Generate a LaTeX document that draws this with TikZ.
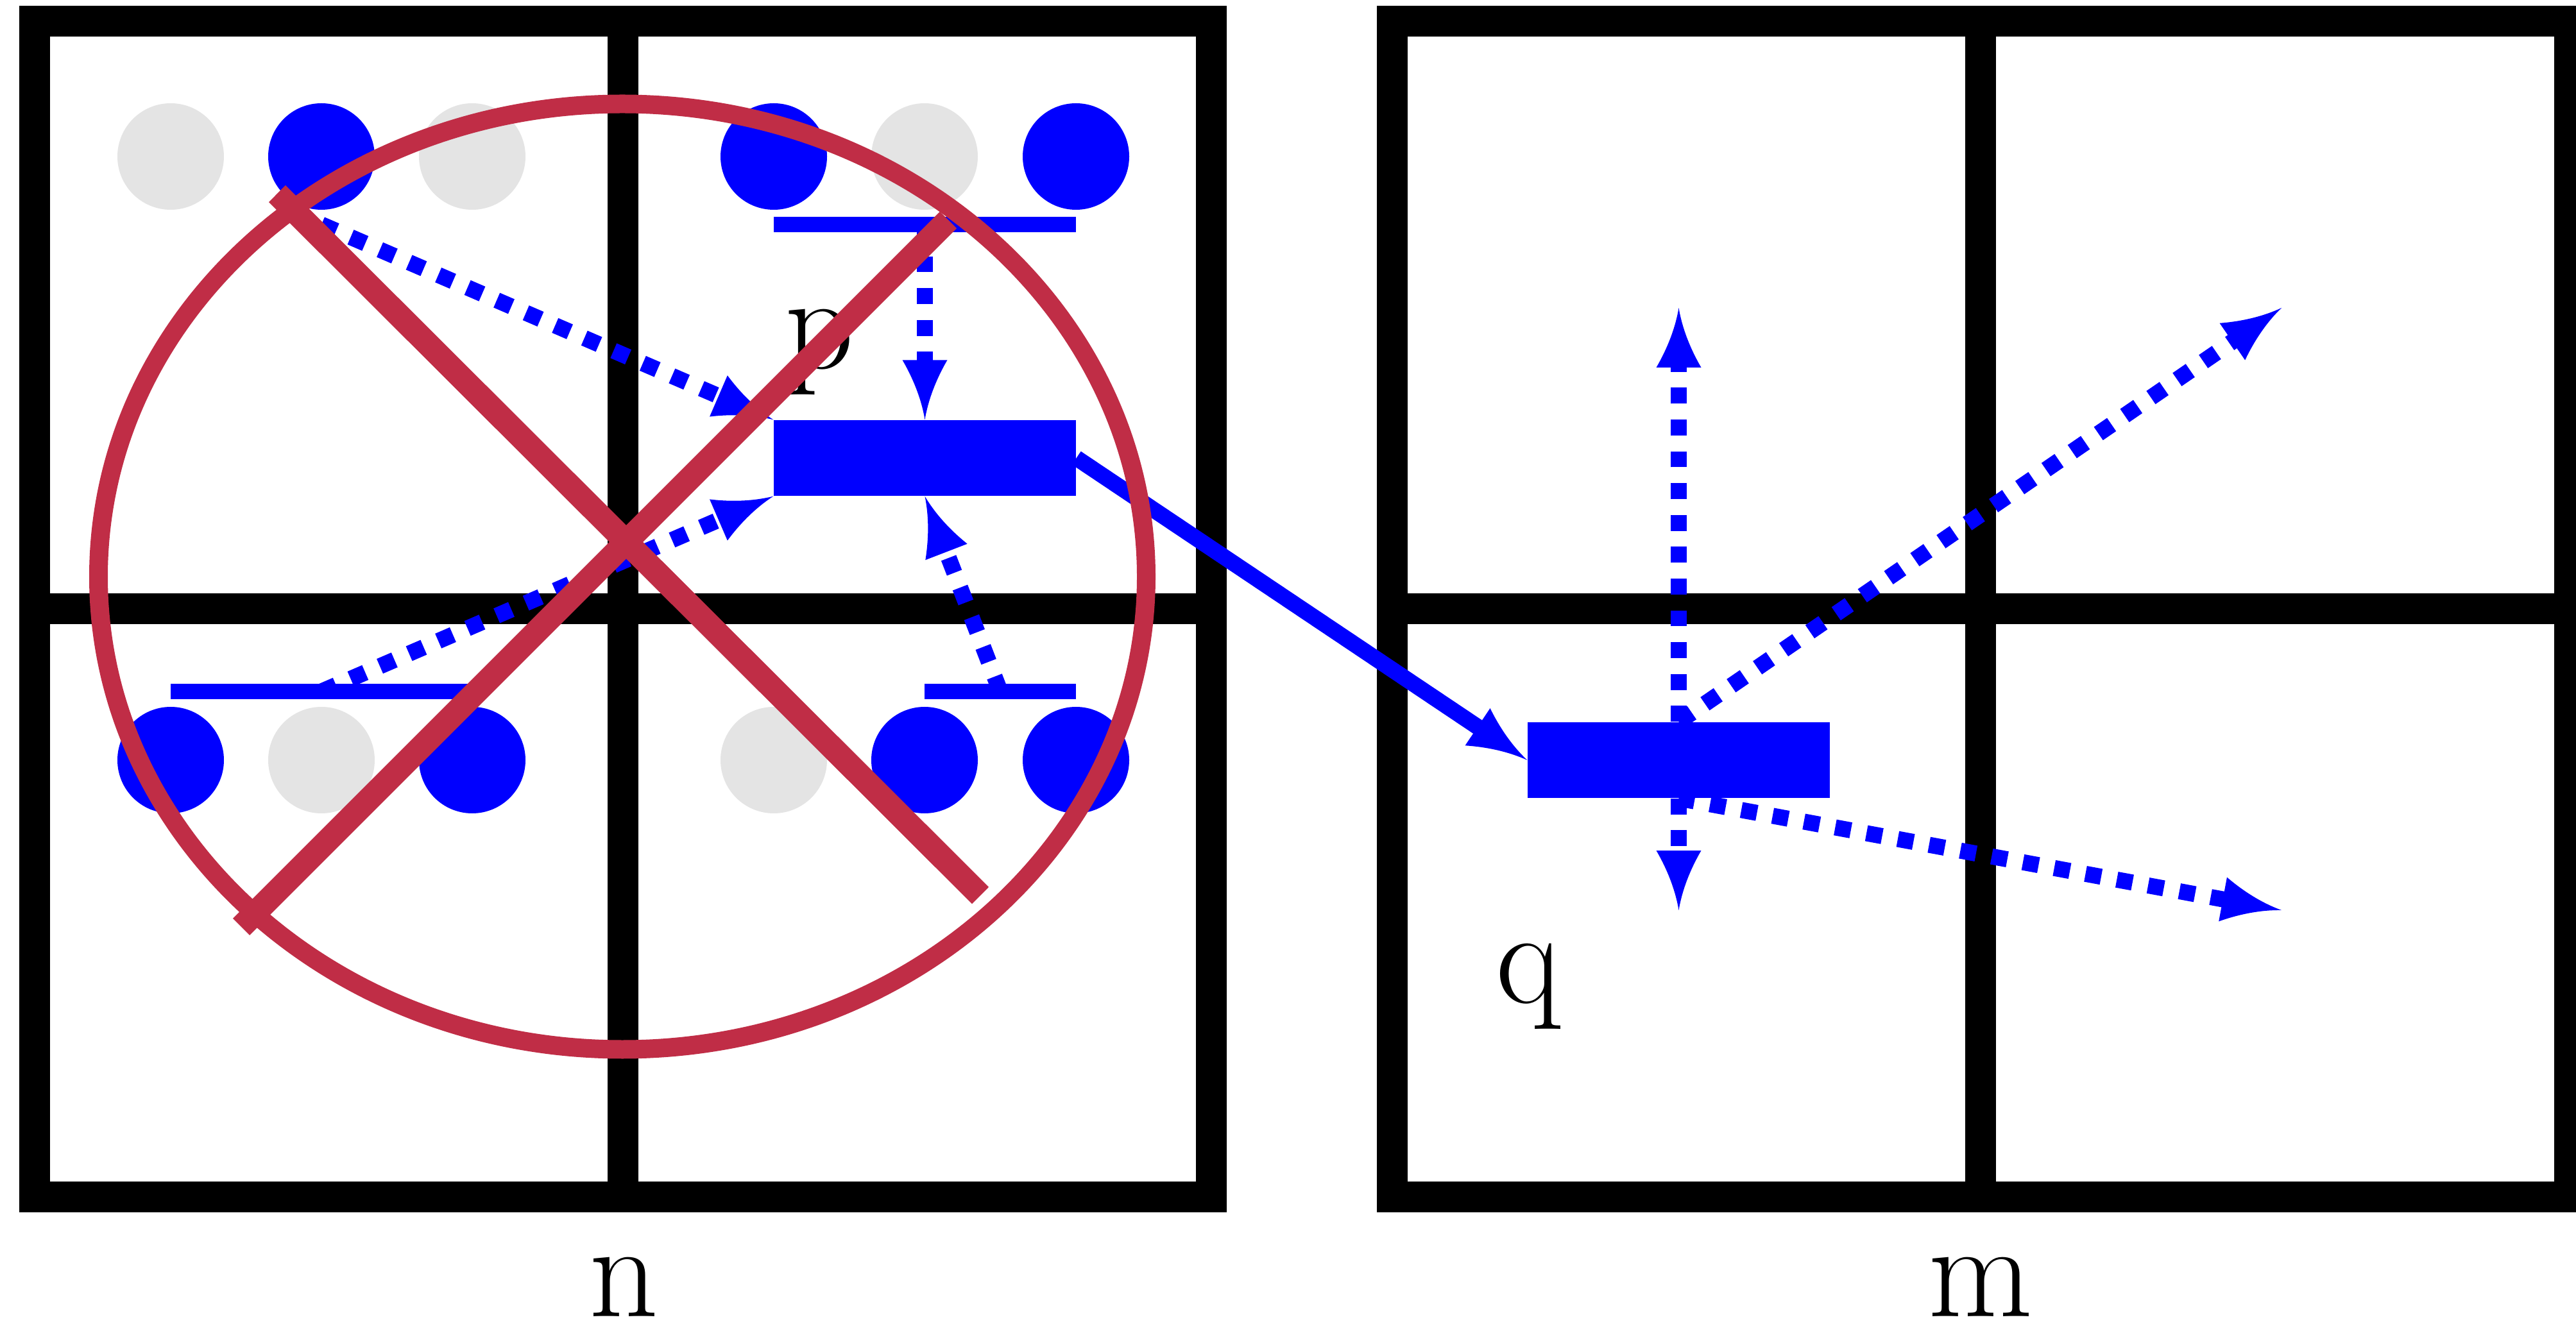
\documentclass[tikz,border=0pt]{standalone}
\usepackage{tikz}
\usepackage{xcolor}
\usetikzlibrary{arrows.meta}
\definecolor{lightdot}{RGB}{228,228,228}
\definecolor{cross}{RGB}{192,45,70}
\pgfdeclarearrow{
  name=Spike,
  setup code={
    \pgfarrowssettipend{0pt}
    \pgfarrowssetlineend{-0.6cm}
    \pgfarrowssetvisualbackend{-0.6cm}
    \pgfarrowssetbackend{-0.93cm}
  },
  drawing code={
    \pgfpathmoveto{\pgfpoint{0cm}{0cm}}
    \pgfpathcurveto{\pgfpoint{-0.30cm}{0.05cm}}{\pgfpoint{-0.62cm}{0.17cm}}{\pgfpoint{-0.93cm}{0.35cm}}
    \pgfpathlineto{\pgfpoint{-0.93cm}{-0.35cm}}
    \pgfpathcurveto{\pgfpoint{-0.62cm}{-0.17cm}}{\pgfpoint{-0.30cm}{-0.05cm}}{\pgfpoint{0cm}{0cm}}
    \pgfpathclose
    \pgfusepathqfill
  }
}

\begin{document}
\begin{tikzpicture}[font=\fontsize{60}{72}\selectfont,
  gridline/.style={draw=black,line width=0.48cm},
  dotfull/.style={circle,fill=blue,inner sep=0pt,minimum size=1.66cm},
  dotempty/.style={circle,fill=lightdot,inner sep=0pt,minimum size=1.66cm},
  bar/.style={fill=blue,inner sep=0pt,minimum height=0.24cm},
  blk/.style={fill=blue,inner sep=0pt,minimum width=4.71cm,minimum height=1.18cm},
  flow/.style={-{Spike},blue,line width=0.25cm},
  probe/.style={flow,dash pattern=on 0.248cm off 0.248cm},
  xout/.style={cross,line width=0.37cm},
  lbl/.style={anchor=base,inner sep=0pt}]
  \clip (0,0) rectangle (40.15,20.6);
  \useasboundingbox (0,0) rectangle (40.15,20.6);
  % the two grids
  \draw[gridline] (0.54,1.94) rectangle (18.88,20.27);
  \draw[gridline] (9.705,1.94) -- (9.705,20.27);
  \draw[gridline] (0.54,11.11) -- (18.88,11.11);
  \draw[gridline] (21.70,1.94) rectangle (40.05,20.27);
  \draw[gridline] (30.87,1.94) -- (30.87,20.27);
  \draw[gridline] (21.70,11.11) -- (40.05,11.11);
  % cells of n
  \node[dotempty] (u1) at (2.66,18.16) {}; \node[dotfull] (u2) at (5.01,18.16) {};
  \node[dotempty] (u3) at (7.36,18.16) {}; \node[dotfull] (u4) at (12.06,18.16) {};
  \node[dotempty] (u5) at (14.41,18.16) {}; \node[dotfull] (u6) at (16.77,18.16) {};
  \node[dotfull] (d1) at (2.66,8.75) {}; \node[dotempty] (d2) at (5.01,8.75) {};
  \node[dotfull] (d3) at (7.36,8.75) {}; \node[dotempty] (d4) at (12.06,8.75) {};
  \node[dotfull] (d5) at (14.41,8.75) {}; \node[dotfull] (d6) at (16.77,8.75) {};
  \node[bar,minimum width=4.71cm] (bartop) at (14.415,17.10) {};
  \node[bar,minimum width=4.70cm] (barleft) at (5.01,9.82) {};
  \node[bar,minimum width=2.36cm] (barright) at (15.59,9.82) {};
  \node[blk] (boxp) at (14.415,13.46) {};
  \node[blk] (boxq) at (26.165,8.75) {};
  \coordinate (start) at (5.01,17.10);
  \coordinate (up) at (26.165,15.80); \coordinate (down) at (26.165,6.41);
  \coordinate (upright) at (35.56,15.80); \coordinate (downright) at (35.56,6.41);
  % arrows
  \draw[probe] (start) -- (boxp.north west);
  \draw[probe] (bartop.center) -- (boxp.north);
  \draw[probe] (barleft.center) -- (boxp.south west);
  \draw[probe] (barright.center) -- (boxp.south);
  \draw[flow] (boxp.east) -- (boxq.west);
  \draw[probe] (boxq.north) -- (up);
  \draw[probe] (boxq.north) -- (upright);
  \draw[probe] (boxq.south) -- (down);
  \draw[probe] (boxq.south) -- (downright);
  % labels
  \node[lbl] (labp) at (12.77,14.85) {p};
  \node[lbl] (labq) at (23.83,4.97) {q};
  \node[lbl] (labn) at (9.72,0.08) {n};
  \node[lbl] (labm) at (30.87,0.08) {m};
  % crossed out
  \coordinate (a1) at (4.32,17.58); \coordinate (a2) at (15.28,6.64);
  \coordinate (b1) at (3.76,6.15); \coordinate (b2) at (14.78,17.17);
  \draw[cross,line width=0.29cm] (9.70,11.61) ellipse (8.165 and 7.37);
  \draw[xout] (a1) -- (a2);
  \draw[xout] (b1) -- (b2);
\end{tikzpicture}
\end{document}
